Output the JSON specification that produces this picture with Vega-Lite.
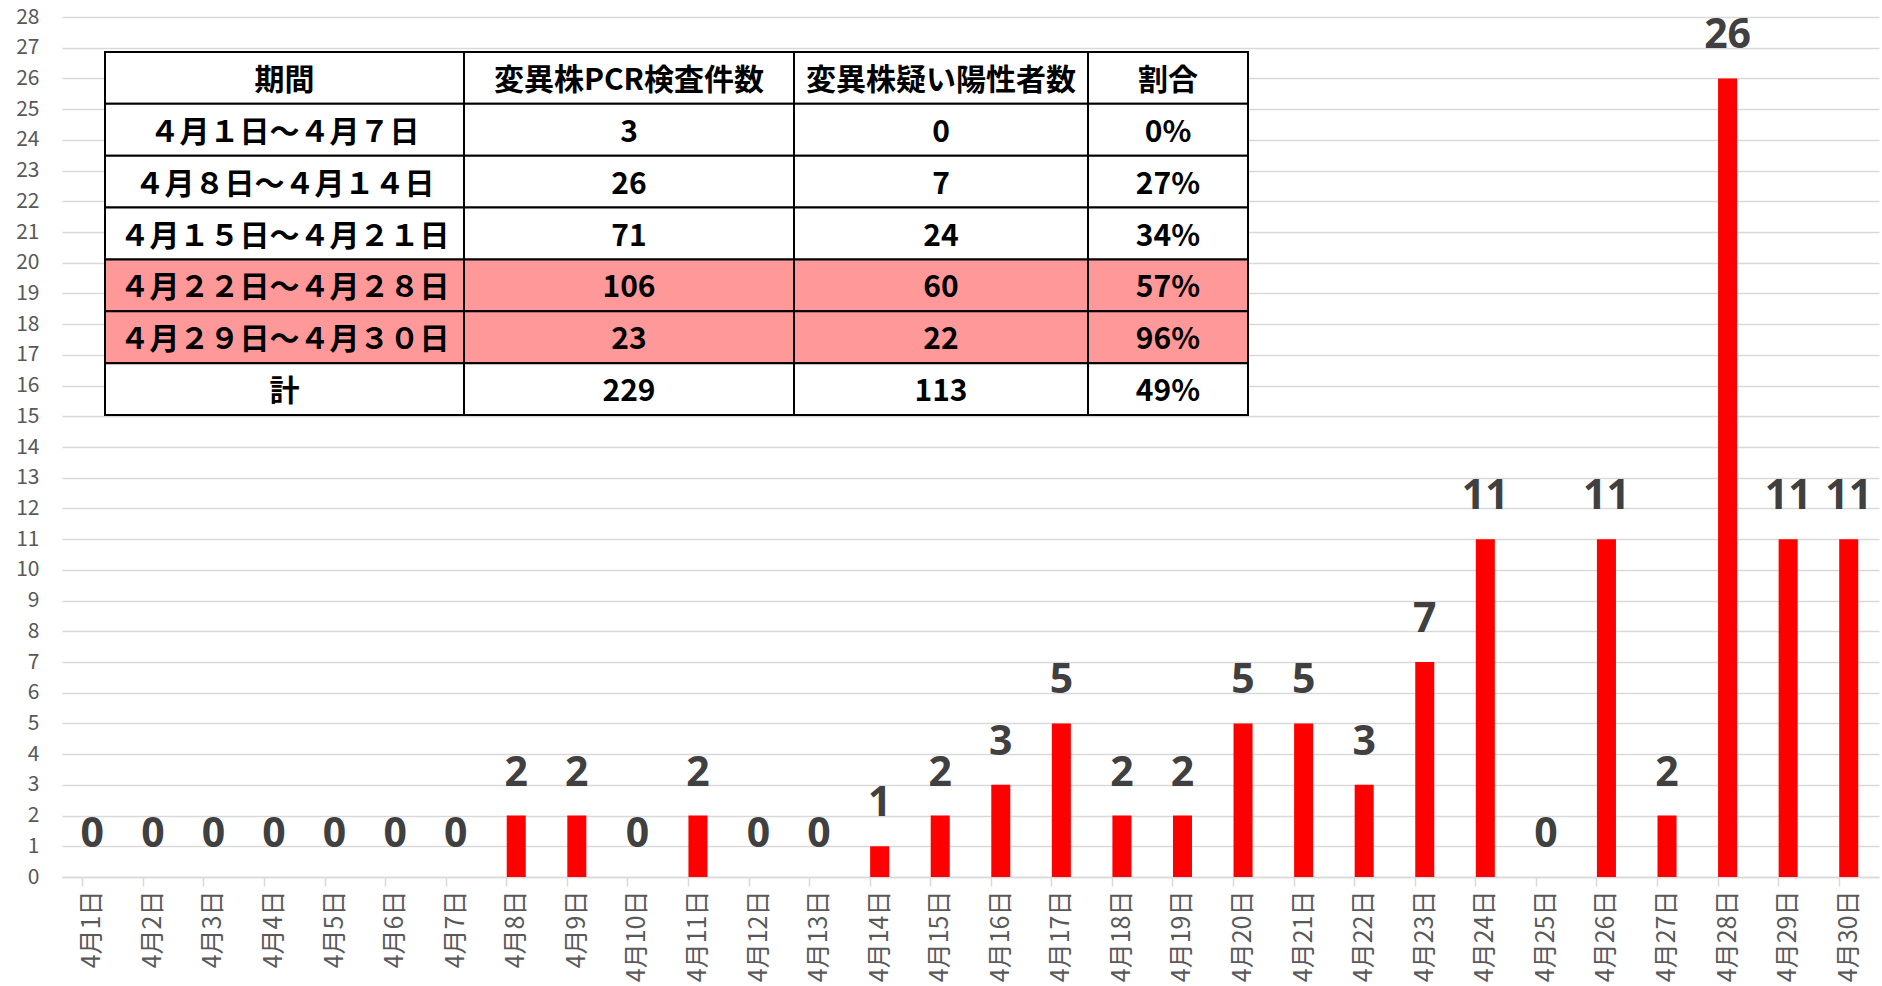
{
  "$schema": "https://vega.github.io/schema/vega-lite/v6.json",
  "autosize": {"type": "none"},
  "width": 1817,
  "height": 860,
  "padding": {"left": 62, "top": 17, "right": 3, "bottom": 109},
  "background": "#ffffff",
  "config": {"view": {"stroke": null}, "font": "Noto Sans CJK JP"},
  "datasets": {
    "daily": [
      {"date": "4月1日", "count": 0}, {"date": "4月2日", "count": 0}, {"date": "4月3日", "count": 0},
      {"date": "4月4日", "count": 0}, {"date": "4月5日", "count": 0}, {"date": "4月6日", "count": 0},
      {"date": "4月7日", "count": 0}, {"date": "4月8日", "count": 2}, {"date": "4月9日", "count": 2},
      {"date": "4月10日", "count": 0}, {"date": "4月11日", "count": 2}, {"date": "4月12日", "count": 0},
      {"date": "4月13日", "count": 0}, {"date": "4月14日", "count": 1}, {"date": "4月15日", "count": 2},
      {"date": "4月16日", "count": 3}, {"date": "4月17日", "count": 5}, {"date": "4月18日", "count": 2},
      {"date": "4月19日", "count": 2}, {"date": "4月20日", "count": 5}, {"date": "4月21日", "count": 5},
      {"date": "4月22日", "count": 3}, {"date": "4月23日", "count": 7}, {"date": "4月24日", "count": 11},
      {"date": "4月25日", "count": 0}, {"date": "4月26日", "count": 11}, {"date": "4月27日", "count": 2},
      {"date": "4月28日", "count": 26}, {"date": "4月29日", "count": 11}, {"date": "4月30日", "count": 11}
    ],
    "table": [
      {"period": "期間", "pcr": "変異株PCR検査件数", "pos": "変異株疑い陽性者数", "ratio": "割合", "highlight": "no"},
      {"period": "４月１日～４月７日", "pcr": "3", "pos": "0", "ratio": "0%", "highlight": "no"},
      {"period": "４月８日～４月１４日", "pcr": "26", "pos": "7", "ratio": "27%", "highlight": "no"},
      {"period": "４月１５日～４月２１日", "pcr": "71", "pos": "24", "ratio": "34%", "highlight": "no"},
      {"period": "４月２２日～４月２８日", "pcr": "106", "pos": "60", "ratio": "57%", "highlight": "yes"},
      {"period": "４月２９日～４月３０日", "pcr": "23", "pos": "22", "ratio": "96%", "highlight": "yes"},
      {"period": "計", "pcr": "229", "pos": "113", "ratio": "49%", "highlight": "no"}
    ]
  },
  "layer": [
    {
      "data": {"name": "daily"},
      "encoding": {
        "x": {
          "field": "date", "type": "nominal", "sort": null,
          "scale": {"paddingInner": 0.686, "paddingOuter": 0.343},
          "axis": {
            "title": null, "labelAngle": -90, "labelFontSize": 25, "labelColor": "#595959",
            "labelFont": "Noto Sans CJK JP", "labelPadding": 4,
            "domainColor": "#d9d9d9", "domainWidth": 1.5,
            "tickColor": "#d9d9d9", "tickWidth": 1.5, "tickSize": 9, "bandPosition": 0,
            "grid": false
          }
        },
        "y": {
          "field": "count", "type": "quantitative",
          "scale": {"domain": [0, 28], "nice": false},
          "axis": {
            "title": null, "tickCount": 28, "domain": false, "ticks": false,
            "labelFontSize": 21, "labelColor": "#595959", "labelPadding": 23,
            "labelFont": "Noto Sans CJK JP",
            "gridColor": "#d9d9d9", "gridWidth": 1.3
          }
        }
      },
      "layer": [
        {"mark": {"type": "bar", "color": "#ff0000"}},
        {
          "mark": {"type": "text", "baseline": "alphabetic", "dy": -30, "fontSize": 41, "fontWeight": "bold", "color": "#404040", "font": "Noto Sans"},
          "encoding": {"text": {"field": "count", "type": "quantitative"}}
        }
      ]
    },
    {
      "data": {"name": "table"},
      "transform": [{"fold": ["period", "pcr", "pos", "ratio"], "as": ["key", "val"]}],
      "encoding": {
        "y": {
          "field": "period", "type": "nominal", "sort": null,
          "scale": {"range": [35, 398], "paddingInner": 0, "paddingOuter": 0},
          "axis": null
        }
      },
      "layer": [
        {
          "transform": [{"filter": {"field": "key", "equal": "period"}}],
          "encoding": {"x": {"field": "key", "type": "nominal", "scale": {"range": [43, 402], "paddingInner": 0, "paddingOuter": 0}, "axis": null}},
          "layer": [
            {"mark": {"type": "rect", "stroke": "#000000", "strokeWidth": 2},
             "encoding": {"color": {"field": "highlight", "type": "nominal", "scale": {"domain": ["no", "yes"], "range": ["#ffffff", "#ff9999"]}, "legend": null}}},
            {"mark": {"type": "text", "fontSize": 30, "fontWeight": "bold", "color": "#000000", "font": "Noto Sans CJK JP", "dy": 3},
             "encoding": {"text": {"field": "val", "type": "nominal"}}}
          ]
        },
        {
          "transform": [{"filter": {"field": "key", "equal": "pcr"}}],
          "encoding": {"x": {"field": "key", "type": "nominal", "scale": {"range": [402, 732], "paddingInner": 0, "paddingOuter": 0}, "axis": null}},
          "layer": [
            {"mark": {"type": "rect", "stroke": "#000000", "strokeWidth": 2},
             "encoding": {"color": {"field": "highlight", "type": "nominal", "scale": {"domain": ["no", "yes"], "range": ["#ffffff", "#ff9999"]}, "legend": null}}},
            {"mark": {"type": "text", "fontSize": 30, "fontWeight": "bold", "color": "#000000", "font": "Noto Sans CJK JP", "dy": 3},
             "encoding": {"text": {"field": "val", "type": "nominal"}}}
          ]
        },
        {
          "transform": [{"filter": {"field": "key", "equal": "pos"}}],
          "encoding": {"x": {"field": "key", "type": "nominal", "scale": {"range": [732, 1026], "paddingInner": 0, "paddingOuter": 0}, "axis": null}},
          "layer": [
            {"mark": {"type": "rect", "stroke": "#000000", "strokeWidth": 2},
             "encoding": {"color": {"field": "highlight", "type": "nominal", "scale": {"domain": ["no", "yes"], "range": ["#ffffff", "#ff9999"]}, "legend": null}}},
            {"mark": {"type": "text", "fontSize": 30, "fontWeight": "bold", "color": "#000000", "font": "Noto Sans CJK JP", "dy": 3},
             "encoding": {"text": {"field": "val", "type": "nominal"}}}
          ]
        },
        {
          "transform": [{"filter": {"field": "key", "equal": "ratio"}}],
          "encoding": {"x": {"field": "key", "type": "nominal", "scale": {"range": [1026, 1186], "paddingInner": 0, "paddingOuter": 0}, "axis": null}},
          "layer": [
            {"mark": {"type": "rect", "stroke": "#000000", "strokeWidth": 2},
             "encoding": {"color": {"field": "highlight", "type": "nominal", "scale": {"domain": ["no", "yes"], "range": ["#ffffff", "#ff9999"]}, "legend": null}}},
            {"mark": {"type": "text", "fontSize": 30, "fontWeight": "bold", "color": "#000000", "font": "Noto Sans CJK JP", "dy": 3},
             "encoding": {"text": {"field": "val", "type": "nominal"}}}
          ]
        }
      ],
      "resolve": {"scale": {"x": "independent"}}
    }
  ],
  "resolve": {"scale": {"x": "independent", "y": "independent"}}
}
